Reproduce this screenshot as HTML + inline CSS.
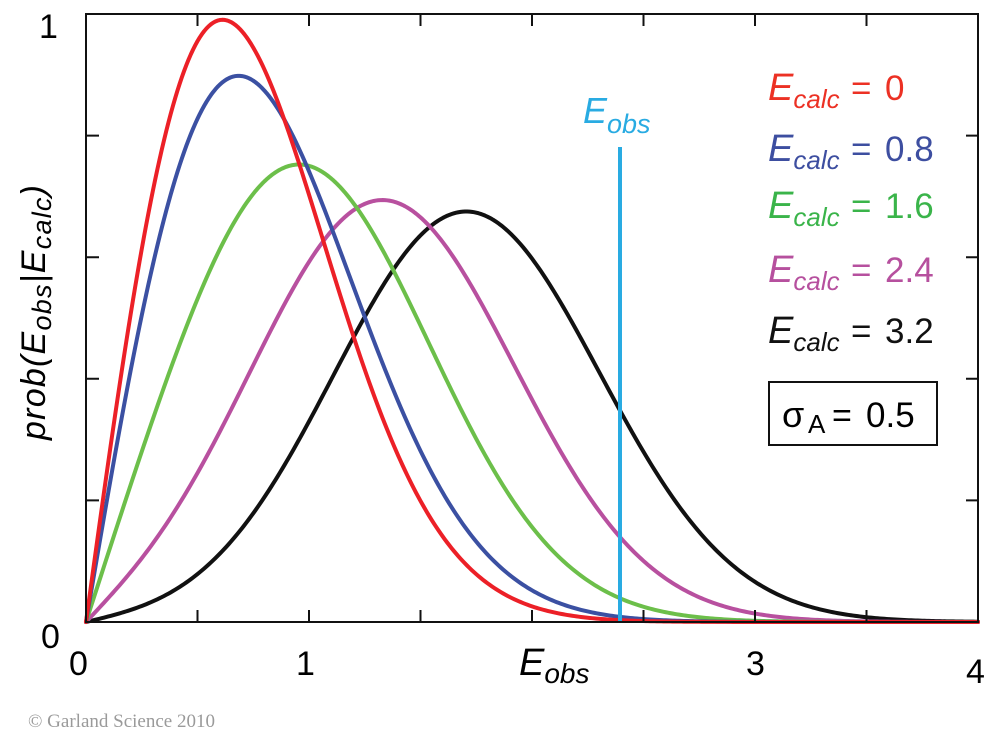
<!DOCTYPE html>
<html><head><meta charset="utf-8"><style>
html,body{margin:0;padding:0;background:#fff;}
svg{display:block;font-family:"Liberation Sans",Arial,sans-serif;}
</style></head><body>
<svg id="s" width="1000" height="749" viewBox="0 0 1000 749" xmlns="http://www.w3.org/2000/svg">
<rect width="1000" height="749" fill="#fff"/>
<g id="curves" fill="none" stroke-width="4" stroke-linejoin="round" stroke-linecap="round"></g>
<line x1="620" y1="147" x2="620" y2="622" stroke="#29abe2" stroke-width="4"/>
<g stroke="#111" stroke-width="2" fill="none">
<rect x="86" y="14" width="892" height="608"/>
<path d="M197.5 622v-12M309 622v-12M420.5 622v-12M532 622v-12M643.5 622v-12M755 622v-12M866.5 622v-12
M197.5 14v12M309 14v12M420.5 14v12M532 14v12M643.5 14v12M755 14v12M866.5 14v12
M86 135.6h13M86 257.2h13M86 378.8h13M86 500.4h13
M978 135.6h-12M978 257.2h-12M978 378.8h-12M978 500.4h-12"/>
</g>
<g font-size="34" fill="#000">
<text x="39" y="38">1</text>
<text x="41" y="648">0</text>
<text x="69" y="675">0</text>
<text x="296" y="675">1</text>
<text x="746" y="675">3</text>
<text x="966" y="683">4</text>
</g>
<text x="519" y="675" font-size="38" font-style="italic">E<tspan font-size="28" dy="8">obs</tspan></text>
<text x="583" y="123" font-size="36" font-style="italic" fill="#29abe2">E<tspan font-size="27" dy="10">obs</tspan></text>
<text transform="translate(45,440) rotate(-90)" font-size="34" font-style="italic" textLength="255" lengthAdjust="spacing">prob(E<tspan font-size="27" dy="6">obs</tspan><tspan dy="-6">|E</tspan><tspan font-size="27" dy="6">calc</tspan><tspan dy="-6">)</tspan></text>
<g id="leg"></g>
<rect x="769" y="382" width="168" height="63" fill="none" stroke="#111" stroke-width="2"/>
<text x="782" y="427" font-size="36">σ</text>
<text x="808" y="433" font-size="26">A</text>
<text x="832" y="427" font-size="34">=</text>
<text x="866" y="427" font-size="35">0.5</text>
<text x="28" y="727" font-family="Liberation Serif, serif" font-size="19" fill="#9a9a9a">© Garland Science 2010</text>
</svg>
<script>
(function(){
var NS="http://www.w3.org/2000/svg";
var X0=86,Y0=622,SX=223,SY=608;
function I0(x){var s=1,t=1;for(var k=1;k<200;k++){t*=(x/2)*(x/2)/(k*k);s+=t;if(t<1e-14*s)break;}return s;}
function p(E,Ec){var sa=0.5,d=1-sa*sa;return 2*E/d*Math.exp(-(E*E+sa*sa*Ec*Ec)/d)*I0(2*sa*E*Ec/d);}
var series=[[3.2,"#111111"],[2.4,"#b8509f"],[1.6,"#6cbf4a"],[0.8,"#3b50a2"],[0,"#ec2027"]];
var g=document.getElementById("curves");
series.forEach(function(s){
 var d="";
 for(var i=0;i<=400;i++){var E=i*0.01;var v=p(E,s[0]);var x=X0+E*SX,y=Y0-v*SY;d+=(i?"L":"M")+x.toFixed(2)+" "+y.toFixed(2);}
 var el=document.createElementNS(NS,"path");el.setAttribute("d",d);el.setAttribute("stroke",s[1]);g.appendChild(el);
});
var leg=[["0","#ec3124",100],["0.8","#3d4ea0",161],["1.6","#3ab44a",218],["2.4","#b6509e",282],["3.2","#111111",343]];
var lg=document.getElementById("leg");
leg.forEach(function(l){
 var t=document.createElementNS(NS,"text");
 t.setAttribute("x","768");t.setAttribute("y",l[2]);t.setAttribute("fill",l[1]);
 t.setAttribute("font-size","38");t.setAttribute("font-style","italic");
 t.textContent="E";
 var sub=document.createElementNS(NS,"tspan");sub.setAttribute("font-size","26");sub.setAttribute("dy","8");sub.textContent="calc";t.appendChild(sub);
 lg.appendChild(t);
 var e=document.createElementNS(NS,"text");e.setAttribute("x","851");e.setAttribute("y",l[2]);e.setAttribute("fill",l[1]);e.setAttribute("font-size","35");e.textContent="=";lg.appendChild(e);
 var n=document.createElementNS(NS,"text");n.setAttribute("x","885");n.setAttribute("y",l[2]);n.setAttribute("fill",l[1]);n.setAttribute("font-size","35");n.textContent=l[0];lg.appendChild(n);
});
})();
</script>
</body></html>
